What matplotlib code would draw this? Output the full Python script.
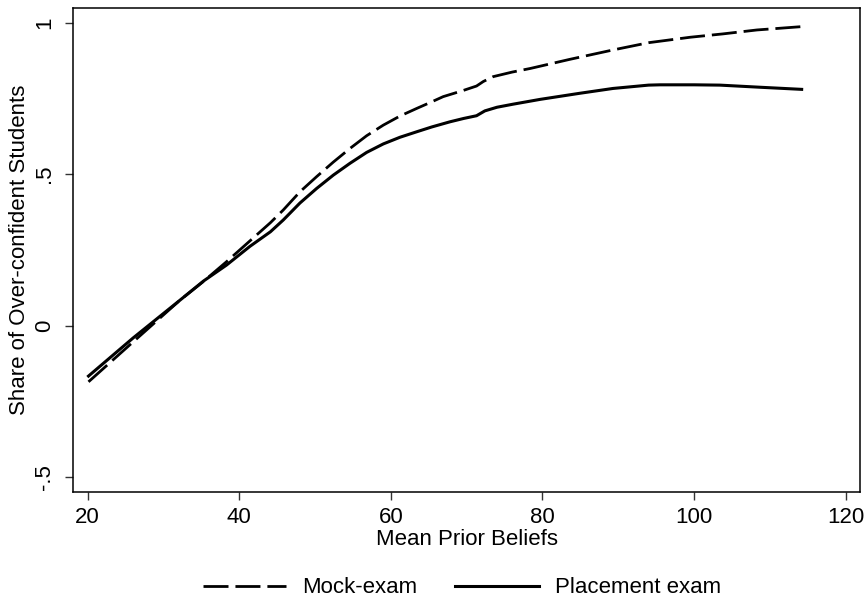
import matplotlib
matplotlib.use("Agg")
import matplotlib.pyplot as plt

plt.rcParams['font.family'] = ['Liberation Sans', 'DejaVu Sans']

# values
mock_x = [20.1, 26.0, 32.2, 35.3, 38.3, 41.4, 44.1, 45.8, 48.0, 50.2, 52.4, 54.6, 56.8, 59.0,
          61.2, 63.4, 65.4, 66.9, 69.5, 71.3, 72.2, 73.5, 76.0, 78.4, 83.6, 89.3, 94.0, 99.5,
          103.8, 108.3, 114.2]
mock_y = [-0.185, -0.053, 0.085, 0.147, 0.211, 0.280, 0.340, 0.382, 0.442, 0.492, 0.540,
          0.585, 0.627, 0.662, 0.692, 0.717, 0.739, 0.756, 0.776, 0.791, 0.806, 0.822, 0.837,
          0.849, 0.879, 0.910, 0.934, 0.952, 0.963, 0.976, 0.987]

place_x = [20.1, 26.0, 32.2, 35.3, 38.3, 41.4, 44.1, 45.8, 48.0, 50.2, 52.4, 54.6, 56.8, 59.0,
           61.2, 63.4, 65.4, 67.8, 69.6, 71.3, 72.4, 74.0, 76.1, 79.7, 84.9, 89.3, 94.0, 95.5,
           100.0, 103.4, 108.7, 114.2]
place_y = [-0.166, -0.040, 0.085, 0.148, 0.200, 0.262, 0.310, 0.349, 0.405, 0.453, 0.497,
           0.536, 0.572, 0.600, 0.622, 0.640, 0.656, 0.673, 0.684, 0.693, 0.709, 0.721, 0.731,
           0.747, 0.767, 0.783, 0.794, 0.795, 0.795, 0.794, 0.787, 0.780]

xticks = [20, 40, 60, 80, 100, 120]
yticks = [-0.5, 0, 0.5, 1]
ytick_labels = ['-.5', '0', '.5', '1']

fig = plt.figure(figsize=(8.67, 6.01), dpi=100)
ax = fig.add_axes([0.0846, 0.1819, 0.907, 0.8043])

ax.plot(mock_x, mock_y, color='black', lw=2.0, dashes=(9, 2.5), label='Mock-exam')
ax.plot(place_x, place_y, color='black', lw=2.2, label='Placement exam')

ax.set_xlim(18.1, 121.86)
ax.set_ylim(-0.5475, 1.0475)
ax.set_xticks(xticks)
ax.set_yticks(yticks)
ax.set_yticklabels(ytick_labels, rotation=90, va='center')
ax.tick_params(axis='both', direction='out', length=6, width=1, color='#333333',
               labelsize=16)
ax.tick_params(axis='x', pad=5)
ax.tick_params(axis='y', pad=7)
for s in ax.spines.values():
    s.set_linewidth(1.1)

ax.set_xlabel('Mean Prior Beliefs', fontsize=16, labelpad=1)
ax.set_ylabel('Share of Over-confident Students', fontsize=16, labelpad=3)

h, l = ax.get_legend_handles_labels()
fig.legend(h, l, loc='center', bbox_to_anchor=(0.533, 0.022), ncol=2, frameon=False,
           fontsize=16, handlelength=3.75, handletextpad=0.75, columnspacing=1.7)

fig.savefig('out.png', dpi=100)
